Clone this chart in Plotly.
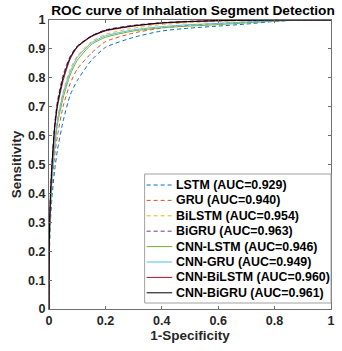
import plotly.graph_objects as go

# False positive rate grid (shared) and true positive rates
fpr = [0, 0.001, 0.005, 0.01, 0.02, 0.03, 0.05, 0.075, 0.1, 0.15, 0.2, 0.3, 0.4, 0.5, 0.6, 0.7, 0.8, 0.9, 1.0]

tpr_lstm       = [0, 0.18, 0.30, 0.38, 0.48, 0.55, 0.65, 0.74, 0.79, 0.86, 0.905, 0.94, 0.962, 0.972, 0.979, 0.986, 0.995, 1.0, 1.0]
tpr_gru        = [0, 0.20, 0.33, 0.42, 0.53, 0.60, 0.70, 0.78, 0.83, 0.885, 0.925, 0.955, 0.972, 0.982, 0.988, 0.993, 0.997, 1.0, 1.0]
tpr_bilstm     = [0, 0.22, 0.36, 0.46, 0.58, 0.66, 0.75, 0.83, 0.875, 0.925, 0.95, 0.972, 0.984, 0.991, 0.995, 0.998, 1.0, 1.0, 1.0]
tpr_bigru      = [0, 0.24, 0.40, 0.50, 0.64, 0.72, 0.81, 0.875, 0.91, 0.945, 0.966, 0.982, 0.991, 0.996, 0.998, 1.0, 1.0, 1.0, 1.0]
tpr_cnn_lstm   = [0, 0.21, 0.34, 0.44, 0.56, 0.64, 0.73, 0.81, 0.86, 0.915, 0.94, 0.962, 0.973, 0.979, 0.984, 0.99, 0.996, 1.0, 1.0]
tpr_cnn_gru    = [0, 0.21, 0.35, 0.45, 0.57, 0.65, 0.745, 0.82, 0.87, 0.92, 0.945, 0.966, 0.977, 0.984, 0.988, 0.993, 0.997, 1.0, 1.0]
tpr_cnn_bilstm = [0, 0.23, 0.38, 0.48, 0.62, 0.70, 0.79, 0.865, 0.905, 0.942, 0.962, 0.979, 0.989, 0.994, 0.997, 0.999, 1.0, 1.0, 1.0]
tpr_cnn_bigru  = [0, 0.24, 0.39, 0.49, 0.63, 0.71, 0.80, 0.87, 0.908, 0.944, 0.964, 0.98, 0.99, 0.995, 0.998, 0.999, 1.0, 1.0, 1.0]

names = ["LSTM (AUC=0.929)", "GRU (AUC=0.940)", "BiLSTM (AUC=0.954)", "BiGRU (AUC=0.963)",
         "CNN-LSTM (AUC=0.946)", "CNN-GRU (AUC=0.949)", "CNN-BiLSTM (AUC=0.960)", "CNN-BiGRU (AUC=0.961)"]
series = [tpr_lstm, tpr_gru, tpr_bilstm, tpr_bigru, tpr_cnn_lstm, tpr_cnn_gru, tpr_cnn_bilstm, tpr_cnn_bigru]
colors = ["#0072BD", "#D95319", "#EDB120", "#7E2F8E", "#77AC30", "#4DBEEE", "#A2142F", "#000000"]
dashes = ["4px,3px"] * 4 + ["solid"] * 4

xticks = [0, 0.2, 0.4, 0.6, 0.8, 1]
xticklabels = ["0", "0.2", "0.4", "0.6", "0.8", "1"]
yticks = [0, 0.1, 0.2, 0.3, 0.4, 0.5, 0.6, 0.7, 0.8, 0.9, 1]
yticklabels = ["0", "0.1", "0.2", "0.3", "0.4", "0.5", "0.6", "0.7", "0.8", "0.9", "1"]

FONT = "Liberation Sans, Arial, sans-serif"
W, H = 342, 351
ML, MR, MT, MB = 49, 7, 20, 42
PW, PH = W - ML - MR, H - MT - MB


def px2x(px):
    return (px - ML) / PW


def py2y(py):
    return (H - MB - py) / PH


fig = go.Figure()
for name, y, c, d in zip(names, series, colors, dashes):
    fig.add_trace(go.Scatter(x=fpr, y=y, mode="lines", name=name, showlegend=False,
                             line=dict(color=c, width=1, dash=d, shape="spline", smoothing=0.6)))

# Legend box drawn in MATLAB style (compact spacing)
shapes = [dict(type="rect", xref="paper", yref="paper",
               x0=px2x(146), x1=1, y0=py2y(303), y1=py2y(174),
               line=dict(color="#a0a0a0", width=1), fillcolor="white", layer="above")]
annotations = []
for i, (name, c, d) in enumerate(zip(names, colors, dashes)):
    yc = py2y(185 + i * 15.4)
    shapes.append(dict(type="line", xref="paper", yref="paper", x0=px2x(148), x1=px2x(174),
                       y0=yc, y1=yc, line=dict(color=c, width=1, dash=d), layer="above"))
    annotations.append(dict(xref="paper", yref="paper", x=px2x(176), y=yc, xanchor="left", yanchor="middle",
                            text="<b>%s</b>" % name, showarrow=False,
                            font=dict(family=FONT, size=12.4, color="#000000")))

axis_common = dict(showgrid=False, zeroline=False, showline=True, linecolor="#707070", linewidth=1,
                   mirror="allticks", ticks="inside", ticklen=3, tickcolor="#707070",
                   ticklabeloverflow="allow",
                   tickfont=dict(family=FONT, size=12.6, color="#262626"))

fig.update_layout(
    width=W, height=H,
    margin=dict(l=ML, r=MR, t=MT, b=MB),
    plot_bgcolor="white", paper_bgcolor="white",
    font=dict(family=FONT, color="#262626"),
    title=dict(text="<b>ROC curve of Inhalation Segment Detection</b>", x=193 / W, xanchor="center",
               y=1 - 10 / H, yanchor="middle", font=dict(family=FONT, size=13.7, color="#000000")),
    xaxis=dict(range=[0, 1], tickvals=xticks, ticktext=["<b>%s</b>" % t for t in xticklabels],
               title=dict(text="<b>1-Specificity</b>", font=dict(family=FONT, size=13.5, color="#262626"), standoff=1),
               **axis_common),
    yaxis=dict(range=[0, 1], tickvals=yticks, ticktext=["<b>%s</b>" % t for t in yticklabels],
               title=dict(text="<b>Sensitivity</b>", font=dict(family=FONT, size=13.5, color="#262626"), standoff=3),
               **axis_common),
    shapes=shapes,
    annotations=annotations,
    showlegend=False,
)

fig.write_html("out.html", config={"displayModeBar": False},
               post_script="document.documentElement.style.overflow='hidden';"
                           "document.body.style.margin='0';document.body.style.overflow='hidden';")
